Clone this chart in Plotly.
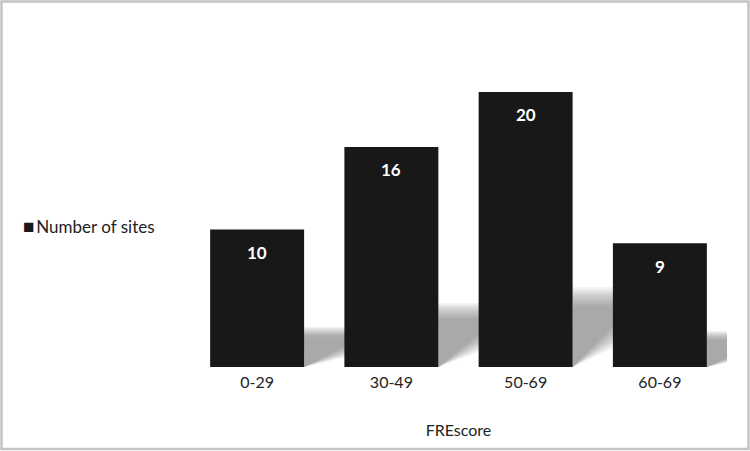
import plotly.graph_objects as go

categories = ["0-29", "30-49", "50-69", "60-69"]
sites = [10, 16, 20, 9]
series_name = "Number of sites"
x_title = "FREscore"

FONT = "Lato"
L, R, T, B = 190, 23, 65, 84
W, H = 750, 451
PW, PH = W - L - R, H - T - B
YMAX = 21.96

fig = go.Figure()
fig.add_trace(go.Bar(
    x=categories, y=sites, name=series_name,
    marker=dict(color="#181818", line=dict(width=0)),
    width=0.7, hoverinfo="x+y",
    showlegend=False,
))

# soft shadows behind each bar, derived from the data
shapes = []
half = 0.35
n_layers = 9
for i, v in enumerate(sites):
    xr = i + half
    for k in range(n_layers):
        t = k / (n_layers - 1)
        f = 0.22 + 0.07 * t
        low = 0.08 + 0.09 * t
        path = (f"M {xr},0 L {xr},{v * f} L {xr + 0.34},{v * f} "
                f"L {xr + 0.34},{v * low} Z")
        shapes.append(dict(type="path", path=path, xref="x", yref="y",
                           fillcolor="rgba(125,125,125,0.105)", line=dict(width=0),
                           layer="below"))

def px_x(px):
    return (px - L) / PW

def px_y(py):
    return (H - B - py) / PH

# outer border of the chart area
shapes.append(dict(type="rect", xref="paper", yref="paper",
                   x0=px_x(1.5), x1=px_x(748.5), y0=px_y(449), y1=px_y(1.5),
                   line=dict(color="#c4c4c4", width=2.5), fillcolor="rgba(0,0,0,0)",
                   layer="above"))

annotations = []
# value labels near the top inside each bar
for c, v in zip(categories, sites):
    annotations.append(dict(
        x=c, y=v, xref="x", yref="y", yshift=-23, showarrow=False,
        text=str(v), xanchor="center", yanchor="middle",
        font=dict(family=FONT, size=17, color="white", weight="bold"),
    ))

# legend drawn as text
annotations.append(dict(
    xref="paper", yref="paper", x=px_x(21), y=px_y(226),
    xanchor="left", yanchor="middle", showarrow=False,
    text=(f"<span style='color:#181818;font-size:19px'>■</span>"
          f"<span style='font-size:7px'>&nbsp;</span>{series_name}"),
    font=dict(family=FONT, size=17, color="#222222"),
))

fig.update_layout(
    width=W, height=H,
    margin=dict(l=L, r=R, t=T, b=B),
    paper_bgcolor="white", plot_bgcolor="white",
    font=dict(family=FONT, size=16, color="#222222"),
    shapes=shapes, annotations=annotations,
    showlegend=False,
    xaxis=dict(title=dict(text=x_title, font=dict(size=16), standoff=34),
               showline=False, showgrid=False, zeroline=False,
               ticks="outside", ticklen=1, tickcolor="white",
               tickfont=dict(size=16), range=[-0.5, 3.5]),
    yaxis=dict(visible=False, range=[0, YMAX]),
)

fig.write_html("out.html", config={"displayModeBar": False},
               post_script="document.body.style.margin='0';")
